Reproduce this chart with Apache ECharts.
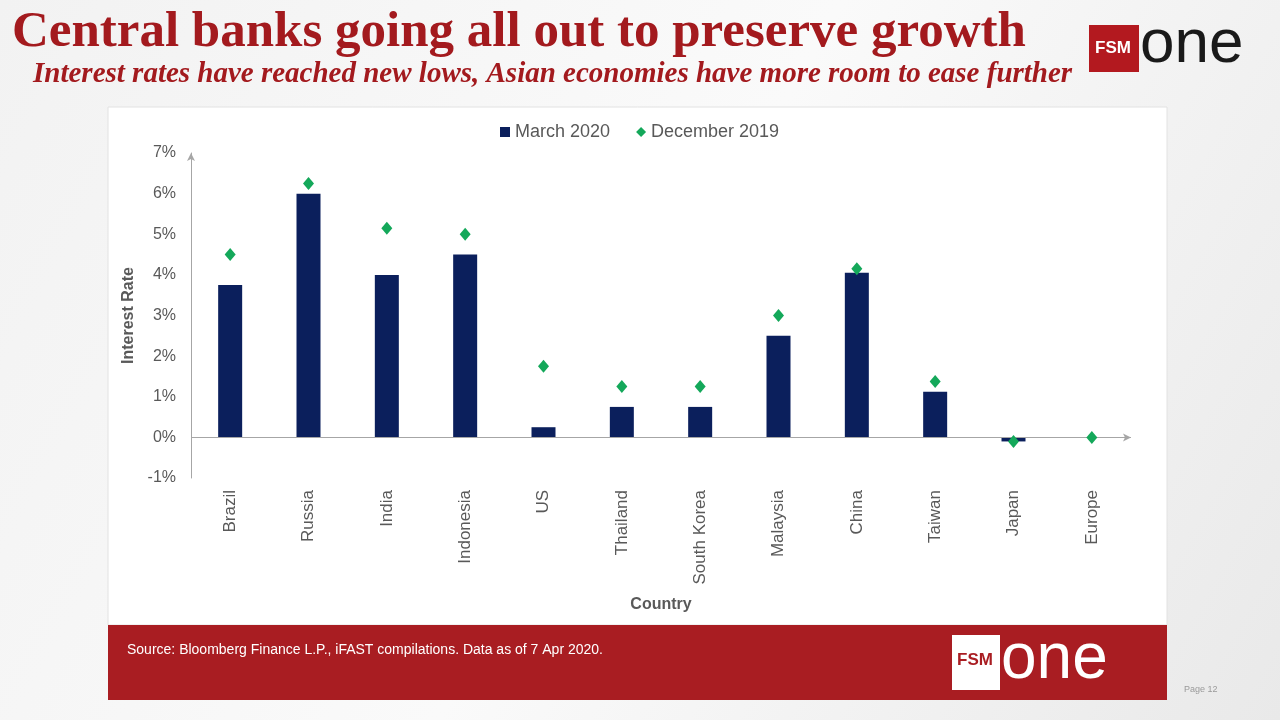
<!DOCTYPE html>
<html><head><meta charset="utf-8">
<script src="https://cdn.jsdelivr.net/npm/echarts@6/dist/echarts.min.js"></script>
<style>html,body{margin:0;padding:0;width:1280px;height:720px;overflow:hidden;}#c{width:1280px;height:720px;}</style>
</head><body><div id="c"></div>
<script>
const countries = ['Brazil','Russia','India','Indonesia','US','Thailand','South Korea','Malaysia','China','Taiwan','Japan','Europe'];
const march2020 = [3.75, 6.0, 4.0, 4.5, 0.25, 0.75, 0.75, 2.5, 4.05, 1.125, -0.1, 0];
const dec2019 = [4.5, 6.25, 5.15, 5.0, 1.75, 1.25, 1.25, 3.0, 4.15, 1.375, -0.1, 0];
const yTicks = {min: -1, max: 7, interval: 1};

const chart = echarts.init(document.getElementById('c'));
const grey = '#595959';
chart.setOption({
  backgroundColor: {type:'linear', x:0, y:0, x2:1, y2:1, colorStops:[{offset:0,color:'#f2f2f2'},{offset:0.5,color:'#fafafa'},{offset:1,color:'#e9e9e9'}]},
  graphic: [
    {type:'rect', z:-10, shape:{x:108,y:107,width:1059,height:518}, style:{fill:'#ffffff', stroke:'#e2e2e2', lineWidth:1}},
    {type:'rect', z:-9, shape:{x:108,y:625,width:1059,height:75}, style:{fill:'#a91d22'}},
    {type:'text', left:127, top:643, style:{text:'Source: Bloomberg Finance L.P., iFAST compilations. Data as of 7 Apr 2020.', fill:'#ffffff', font:'14px "Liberation Sans", sans-serif'}},
    {type:'rect', shape:{x:952,y:635,width:48,height:55}, style:{fill:'#ffffff'}},
    {type:'text', left:957, top:652, style:{text:'FSM', fill:'#a91d22', font:'bold 17px "Liberation Sans", sans-serif'}},
    {type:'text', left:1001, top:628, style:{text:'one', fill:'#ffffff', font:'64px "Liberation Sans", sans-serif'}},
    {type:'text', left:1184, top:685, style:{text:'Page 12', fill:'#9a9a9a', font:'9px "Liberation Sans", sans-serif'}},
    {type:'text', left:12, top:7, style:{text:'Central banks going all out to preserve growth', fill:'#a31a1e', font:'bold 51px "Liberation Serif", serif'}},
    {type:'text', left:33, top:60, style:{text:'Interest rates have reached new lows, Asian economies have more room to ease further', fill:'#a31a1e', font:'italic bold 29px "Liberation Serif", serif'}},
    {type:'rect', shape:{x:1089,y:25,width:50,height:47}, style:{fill:'#b3191f'}},
    {type:'text', left:1095, top:40, style:{text:'FSM', fill:'#ffffff', font:'bold 17px "Liberation Sans", sans-serif'}},
    {type:'text', left:1140, top:14, style:{text:'one', fill:'#1a1a1a', font:'62px "Liberation Sans", sans-serif'}}
  ],
  legend: {
    left: 495, top: 118, itemWidth: 10, itemHeight: 10, itemGap: 26,
    textStyle: {color: grey, fontSize: 18, fontFamily: '"Liberation Sans", sans-serif'},
    data: [{name:'March 2020', icon:'rect'}, {name:'December 2019', icon:'diamond'}]
  },
  grid: {left: 191, right: 149, top: 153, bottom: 242, containLabel: false},
  xAxis: {
    type: 'category', data: countries,
    axisLine: {show: false, onZero: false},
    axisTick: {show: false},
    axisLabel: {rotate: 90, margin: 12, color: grey, fontSize: 17, fontFamily: '"Liberation Sans", sans-serif', interval: 0},
    name: 'Country', nameLocation: 'middle', nameGap: 119,
    nameTextStyle: {color: grey, fontSize: 16, fontWeight: 'bold', fontFamily: '"Liberation Sans", sans-serif'}
  },
  yAxis: {
    type: 'value', min: yTicks.min, max: yTicks.max, interval: yTicks.interval,
    axisLine: {show: true, onZero: false, symbol: ['none','arrow'], symbolSize: [6, 8], lineStyle: {color: '#a6a6a6', width: 1}},
    axisTick: {show: false},
    splitLine: {show: false},
    axisLabel: {formatter: v => v + '%', color: grey, fontSize: 16, margin: 15, fontFamily: '"Liberation Sans", sans-serif'},
    name: 'Interest Rate', nameLocation: 'middle', nameGap: 50, nameRotate: 90,
    nameTextStyle: {color: grey, fontSize: 16, fontWeight: 'bold', fontFamily: '"Liberation Sans", sans-serif'}
  },
  series: [
    {
      name: 'March 2020', type: 'bar', data: march2020, barWidth: 24,
      itemStyle: {color: '#0b1f5c'},
      markLine: {
        silent: true, symbol: ['none', 'arrow'], symbolSize: [6, 8],
        label: {show: false},
        lineStyle: {color: '#a6a6a6', width: 1.2, type: 'solid'},
        data: [[{yAxis: 0, x: 191}, {yAxis: 0, x: 1131}]]
      }
    },
    {
      name: 'December 2019', type: 'scatter', data: dec2019, symbol: 'diamond', symbolSize: [11, 13],
      itemStyle: {color: '#14a85a', opacity: 1}, z: 5
    }
  ]
});
</script></body></html>
